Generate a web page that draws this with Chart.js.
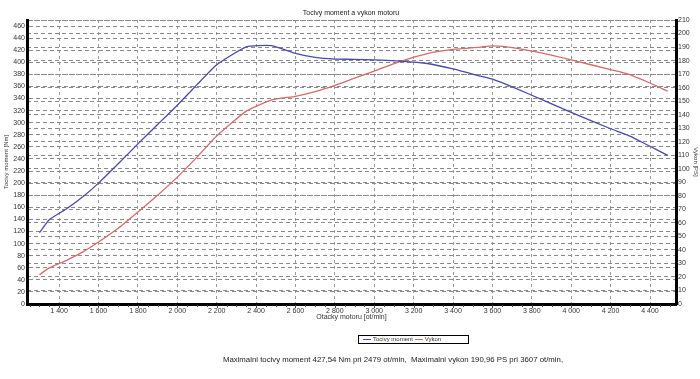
<!DOCTYPE html>
<html>
<head>
<meta charset="utf-8">
<script src="https://cdn.jsdelivr.net/npm/chart.js@4/dist/chart.umd.min.js"></script>
<style>
  body { margin: 0; background: #fff; font-family: "Liberation Sans", Arial, sans-serif; }
  #wrap { position: relative; width: 700px; height: 379px; }
  #title { position: absolute; left: 0; width: 702px; top: 9px; text-align: center; font-size: 7px; color: #222; }
  #legend { position: absolute; left: 358px; top: 335px; width: 111px; height: 9px; border: 1px solid #000;
            font-size: 6px; line-height: 7px; color: #333; white-space: nowrap; box-sizing: border-box; padding-left: 4px; }
  #legend span.ln { display: inline-block; width: 8px; height: 0; border-top: 1px solid; vertical-align: middle; margin-right: 2px; }
  #note { position: absolute; left: 0; width: 786px; top: 355px; text-align: center; font-size: 7.8px; color: #222; }
</style>
</head>
<body>
<div id="wrap">
  <canvas id="c" width="700" height="379"></canvas>
  <div id="title">Tocivy moment a vykon motoru</div>
  <div id="legend"><span class="ln" style="color:#4a4aa8"></span>Tocivy moment <span class="ln" style="color:#d86a6a"></span>Vykon</div>
  <div id="note">Maximalni tocivy moment 427,54 Nm pri 2479 ot/min,&nbsp; Maximalni vykon 190,96 PS pri 3607 ot/min,</div>
</div>
<script>
// engine speed [ot/min]
const rpm = [1300, 1350, 1440, 1530, 1600, 1700, 1800, 1900, 2000, 2100, 2200, 2350, 2480, 2600, 2700,
  2800, 2900, 3000, 3130, 3270, 3400, 3540, 3600, 3710, 3860, 4000, 4200, 4290, 4400, 4490];
// torque [Nm]
const torque = [118, 139.5, 158, 180, 200, 232, 265, 297, 329, 363, 396, 425.7, 427.5, 414.7, 408,
  405.3, 405, 404, 402, 398, 389, 377, 372, 358, 337, 317, 290, 279, 261, 246];
// power [PS]
const power = [21.6, 26.7, 32.5, 39.3, 45.8, 56, 68, 80.4, 93.8, 108.6, 124.2, 142.6, 151, 153.6, 157,
  161.6, 167, 172.2, 179.3, 185.2, 188.3, 190, 190.8, 189.4, 185.3, 180.5, 173.3, 170, 163.4, 157.3];

const rpmTicks = [1400, 1600, 1800, 2000, 2200, 2400, 2600, 2800, 3000, 3200, 3400, 3600, 3800, 4000, 4200, 4400];
const torqueTicks = [0, 20, 40, 60, 80, 100, 120, 140, 160, 180, 200, 220, 240, 260, 280, 300, 320, 340,
  360, 380, 400, 420, 440, 460, 470];
const powerTicks = [0, 10, 20, 30, 40, 50, 60, 70, 80, 90, 100, 110, 120, 130, 140, 150, 160, 170,
  180, 190, 200, 210];

const tickFont = { family: "Liberation Sans", size: 7 };

// small ticks along the bottom axis
const minorTicks = {
  id: "minorTicks",
  afterDraw(chart) {
    const x = chart.scales.x;
    const ctx = chart.ctx;
    ctx.save();
    ctx.strokeStyle = "#444";
    ctx.lineWidth = 1;
    ctx.beginPath();
    for (let v = 1250; v <= 4500; v += 50) {
      const px = Math.round(x.getPixelForValue(v)) + 0.5;
      ctx.moveTo(px, x.top + 1);
      ctx.lineTo(px, x.top + (v % 200 === 0 ? 4 : 3));
    }
    ctx.stroke();
    ctx.restore();
  }
};

new Chart(document.getElementById("c"), {
  type: "line",
  data: {
    datasets: [
      {
        label: "Tocivy moment",
        data: rpm.map((r, i) => ({ x: r, y: torque[i] })),
        borderColor: "#4a4aa8",
        borderWidth: 1.3,
        pointRadius: 0,
        tension: 0.15,
        yAxisID: "y"
      },
      {
        label: "Vykon",
        data: rpm.map((r, i) => ({ x: r, y: power[i] })),
        borderColor: "#d86a6a",
        borderWidth: 1.3,
        pointRadius: 0,
        tension: 0.15,
        yAxisID: "y1"
      }
    ]
  },
  options: {
    responsive: false,
    animation: false,
    layout: { padding: { top: 20, left: 0, right: 0, bottom: 0 } },
    plugins: { legend: { display: false }, title: { display: false }, tooltip: { enabled: false } },
    scales: {
      x: {
        type: "linear",
        min: 1237,
        max: 4532,
        afterBuildTicks: (s) => { s.ticks = rpmTicks.map(v => ({ value: v })); },
        afterFit: (s) => { s.height = 75; },
        ticks: {
          font: tickFont, color: "#333", padding: 3, maxRotation: 0, autoSkip: false,
          callback: (v) => String(v).replace(/(\d)(\d{3})$/, "$1 $2")
        },
        grid: { color: "#9a9a9a", lineWidth: 1, drawTicks: false },
        border: { display: true, color: "#000", width: 3, dash: [3, 3] },
        title: {
          display: true, text: "Otacky motoru [ot/min]", color: "#333",
          font: { family: "Liberation Sans", size: 7 }, padding: { top: 0, bottom: 58 }
        }
      },
      y: {
        position: "left",
        min: 0,
        max: 470,
        afterBuildTicks: (s) => { s.ticks = torqueTicks.map(v => ({ value: v })); },
        afterFit: (s) => { s.width = 27; },
        ticks: {
          font: tickFont, color: "#333", padding: 2, autoSkip: false,
          callback: (v) => (v === 470 ? "" : v)
        },
        grid: { color: "#8a8a8a", lineWidth: 1, drawTicks: false },
        border: { display: true, color: "#000", width: 3, dash: [4, 3] },
        title: {
          display: true, text: "Tocivy moment [Nm]", color: "#333",
          font: { family: "Liberation Sans", size: 6 }, padding: { top: 3, bottom: 0 }
        }
      },
      y1: {
        position: "right",
        min: 0,
        max: 210,
        afterBuildTicks: (s) => { s.ticks = powerTicks.map(v => ({ value: v })); },
        afterFit: (s) => { s.width = 24; },
        ticks: { font: tickFont, color: "#333", padding: 2, autoSkip: false },
        grid: { color: "#8a8a8a", lineWidth: 1, drawTicks: false },
        border: { display: true, color: "#000", width: 3, dash: [4, 3] },
        title: {
          display: true, text: "Vykon [PS]", color: "#333",
          font: { family: "Liberation Sans", size: 6 }, padding: { top: 1, bottom: 0 }
        }
      }
    }
  },
  plugins: [minorTicks]
});
</script>
</body>
</html>
